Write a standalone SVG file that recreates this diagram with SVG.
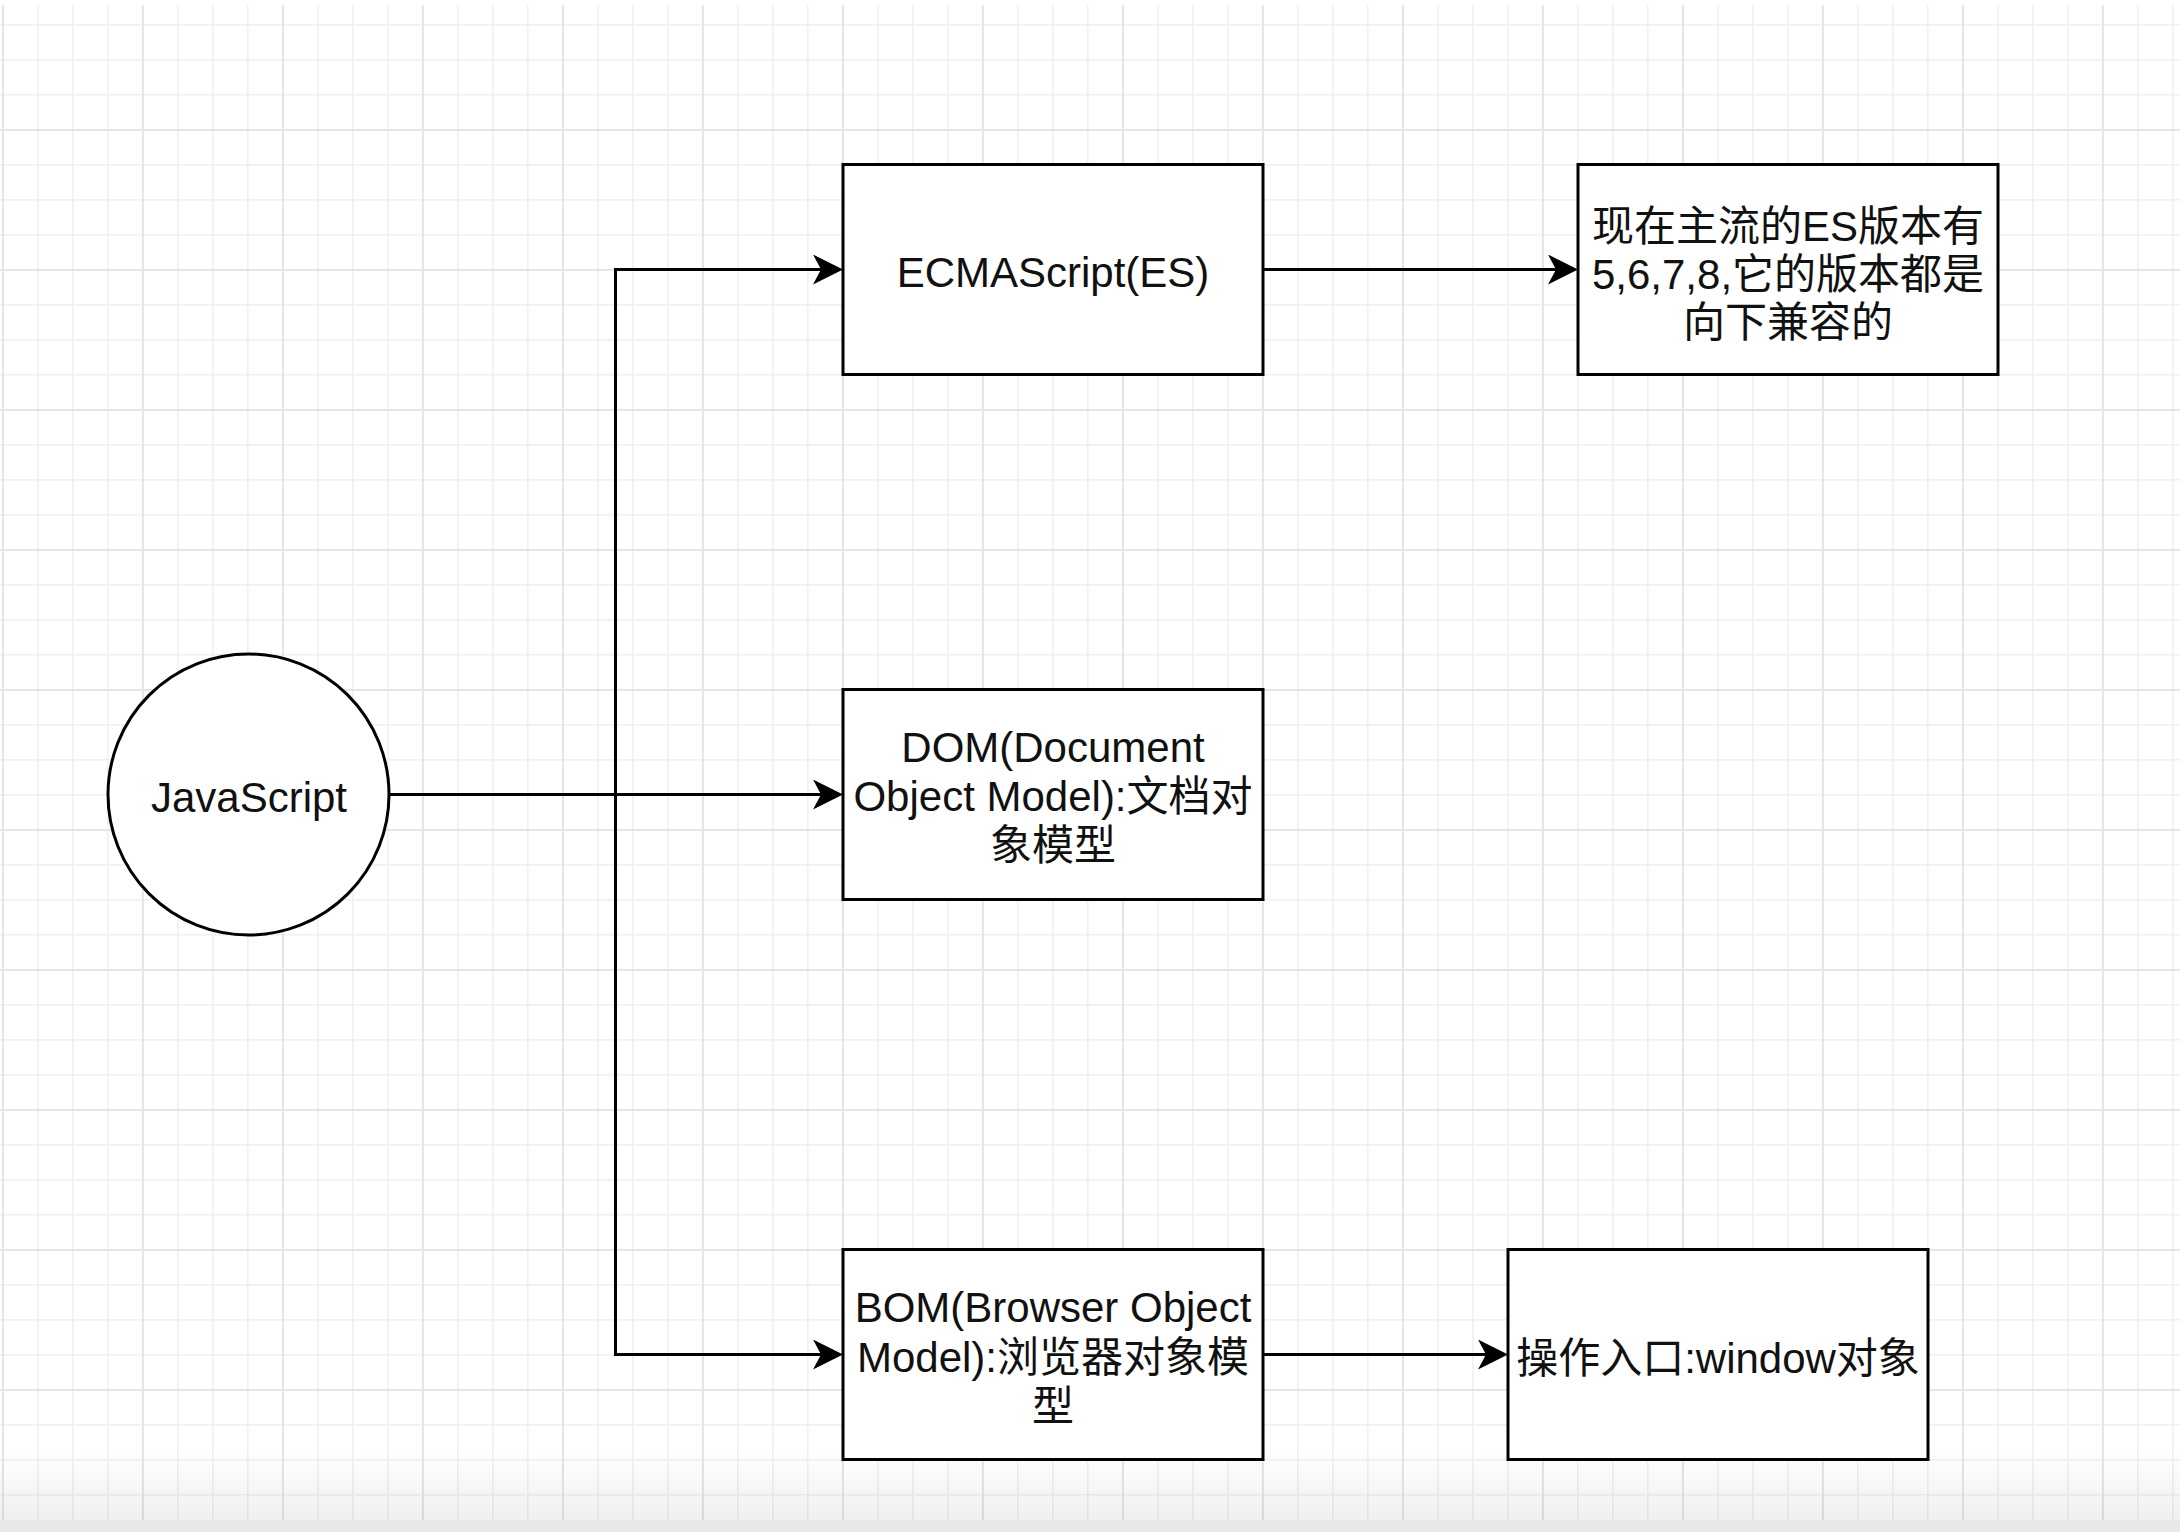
<svg xmlns="http://www.w3.org/2000/svg" width="2180" height="1532" viewBox="0 0 2180 1532">
  <style>
    .node { fill: #ffffff; stroke: #000000; stroke-width: 3; }
    .edge { fill: none; stroke: #000000; stroke-width: 3; marker-end: url(#arrow); }
    .edge-plain { fill: none; stroke: #000000; stroke-width: 3; }
    .label { font-family: "Liberation Sans", "Noto Sans CJK SC", sans-serif; font-size: 42px; fill: #111111; text-anchor: middle; }
  </style>
  <defs>
    <pattern id="grid" patternUnits="userSpaceOnUse" x="2" y="129" width="140" height="140">
      <rect x="35" y="0" width="1.6" height="140" fill="#f0f0f0"/>
      <rect x="70" y="0" width="1.6" height="140" fill="#f0f0f0"/>
      <rect x="105" y="0" width="1.6" height="140" fill="#f0f0f0"/>
      <rect x="0" y="35" width="140" height="1.6" fill="#f0f0f0"/>
      <rect x="0" y="70" width="140" height="1.6" fill="#f0f0f0"/>
      <rect x="0" y="105" width="140" height="1.6" fill="#f0f0f0"/>
      <rect x="0" y="0" width="1.8" height="140" fill="#e3e3e3"/>
      <rect x="0" y="0" width="140" height="1.8" fill="#e3e3e3"/>
    </pattern>
    <linearGradient id="fade" x1="0" y1="0" x2="0" y2="1">
      <stop offset="0" stop-color="#000000" stop-opacity="0"/>
      <stop offset="1" stop-color="#000000" stop-opacity="0.06"/>
    </linearGradient>
    <marker id="arrow" markerUnits="userSpaceOnUse" markerWidth="32" markerHeight="32" refX="10" refY="15" orient="auto">
      <path d="M0,0 L30,15 L0,30 L8,15 Z" fill="#000000"/>
    </marker>
  </defs>

  <g id="background">
    <rect x="0" y="0" width="2180" height="1532" fill="#ffffff"/>
    <rect x="0" y="5" width="2180" height="1515" fill="url(#grid)"/>
    <rect x="0" y="1450" width="2180" height="70" fill="url(#fade)"/>
    <rect x="0" y="1520" width="2180" height="12" fill="#e8e8e8"/>
  </g>

  <g id="connectors">
    <path class="edge" d="M389,794.5 H615.5 V269.5 H823"/>
    <path class="edge" d="M389,794.5 H823"/>
    <path class="edge" d="M389,794.5 H615.5 V1354.5 H823"/>
    <path class="edge" d="M1263,269.5 H1558"/>
    <path class="edge" d="M1263,1354.5 H1488"/>
  </g>

  <g id="node-javascript">
    <circle class="node" cx="248.5" cy="794.5" r="140.5"/>
    <text class="label" x="249" y="812">JavaScript</text>
  </g>

  <g id="node-ecmascript">
    <rect class="node" x="843" y="164.5" width="420" height="210"/>
    <text class="label" x="1053" y="287">ECMAScript(ES)</text>
  </g>

  <g id="node-es-versions">
    <rect class="node" x="1578" y="164.5" width="420" height="210"/>
    <text class="label" x="1788" y="241">现在主流的ES版本有</text>
    <text class="label" x="1788" y="289">5,6,7,8,它的版本都是</text>
    <text class="label" x="1788" y="337">向下兼容的</text>
  </g>

  <g id="node-dom">
    <rect class="node" x="843" y="689.5" width="420" height="210"/>
    <text class="label" x="1053" y="762">DOM(Document</text>
    <text class="label" x="1053" y="811">Object Model):文档对</text>
    <text class="label" x="1053" y="860">象模型</text>
  </g>

  <g id="node-bom">
    <rect class="node" x="843" y="1249.5" width="420" height="210"/>
    <text class="label" x="1053" y="1322">BOM(Browser Object</text>
    <text class="label" x="1053" y="1371.5">Model):浏览器对象模</text>
    <text class="label" x="1053" y="1421">型</text>
  </g>

  <g id="node-window">
    <rect class="node" x="1508" y="1249.5" width="420" height="210"/>
    <text class="label" x="1718" y="1373">操作入口:window对象</text>
  </g>
</svg>
